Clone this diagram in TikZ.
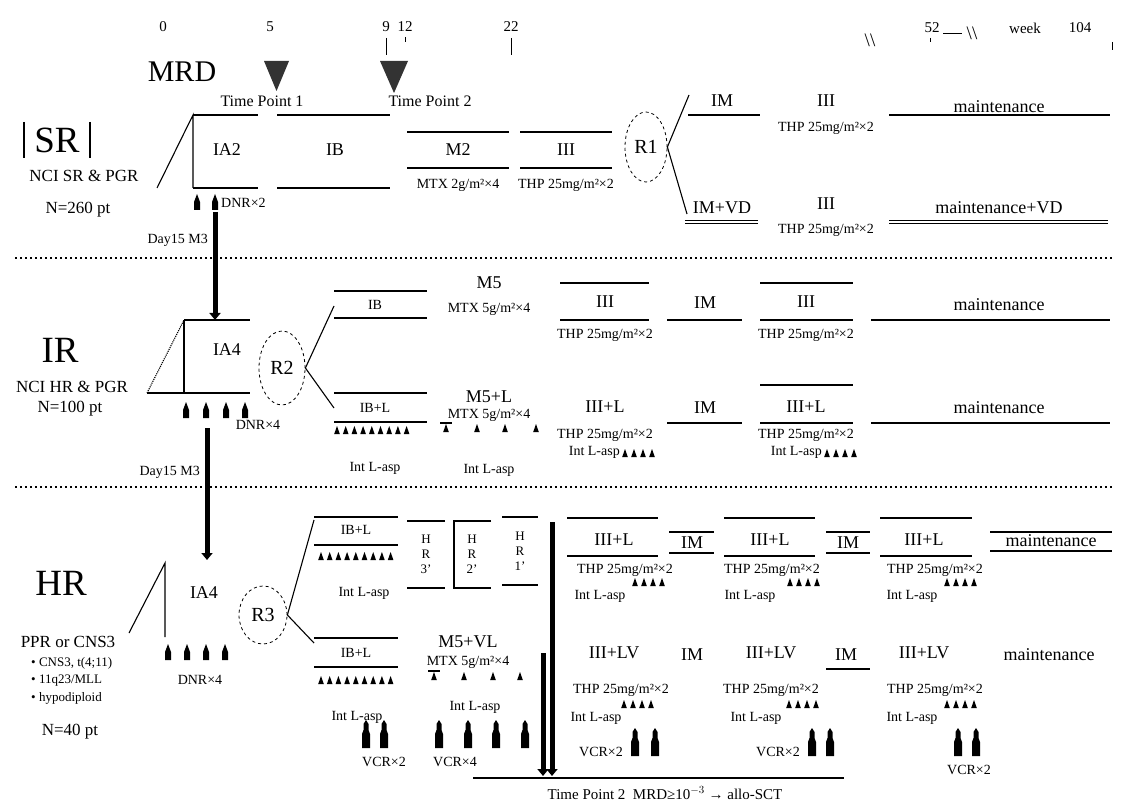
\documentclass[tikz,border=0pt]{standalone}
\usepackage{fontspec}
\setmainfont{Liberation Serif}
\usetikzlibrary{arrows.meta,shapes.geometric}
\newcommand\fsz[1]{\fontsize{#1}{#1}\selectfont}
\begin{document}
\begin{tikzpicture}[x=1pt,y=-1pt,
  bar/.style={line width=1.1pt},
  lbl/.style={font=\fsz{18}, inner sep=0pt},
  sm/.style={font=\fsz{14}, inner sep=0pt},
  num/.style={font=\fsz{15}, inner sep=0pt},
  tpl/.style={font=\fsz{16}, inner sep=0pt},
  big/.style={font=\fsz{37}, inner sep=0pt},
  side/.style={font=\fsz{17}, inner sep=0pt},
  bul/.style={font=\fsz{13}, inner sep=0pt, anchor=west},
  rand/.style={draw, dashed, ellipse, inner sep=0pt, font=\fsz{20}, line width=0.8pt},
  fat/.style={line width=5pt, -{Triangle[width=11pt,length=7pt]}},
  sep/.style={line width=2pt, dash pattern=on 2pt off 3pt},
  hrbox/.style={font=\fsz{13}, inner sep=0pt, align=center},
  la/.pic={\fill (-2.8,0) -- (2.8,0) -- (0,-8) -- cycle;},
  dnr/.pic={\fill (-3,0) -- (-3,-8) -- (0,-16) -- (3,-8) -- (3,0) -- cycle;},
  vcr/.pic={\fill (-4,0) -- (-4,-14) -- (-2.5,-18) -- (-2.5,-24) -- (0,-28) -- (2.5,-24) -- (2.5,-18) -- (4,-14) -- (4,0) -- cycle;}
]
\useasboundingbox (0,0) rectangle (1127,810);
\fill[white] (0,0) rectangle (1127,810);

% ---------- time axis ----------
\node[num] (w0) at (163,27) {0};
\node[num] (w5) at (270,27) {5};
\node[num] (w9) at (386,27) {9};
\node[num] (w12) at (405,27) {12};
\node[num] (w22) at (511,27) {22};
\node[font=\fsz{19}, inner sep=0pt] (brk1) at (870,40) {\textbackslash\textbackslash};
\node[num] (w52) at (932,28) {52};
\node[font=\fsz{19}, inner sep=0pt] (brk2) at (972,33) {\textbackslash\textbackslash};
\node[num] (wk) at (1025,28) {week};
\node[num] (w104) at (1080,28) {104};
\draw (386,38) -- (386,55);
\draw (511,38) -- (511,55);
\draw (405,37) -- (405,42);
\draw (930,38) -- (930,42);
\draw (1112,42) -- (1112,50);
\draw (943,33) -- (962,33);

\node[font=\fsz{30}, inner sep=0pt] (mrd) at (182,72) {MRD};
\fill[black!80] (264,61) -- (289,61) -- (276.5,91) -- cycle;
\fill[black!80] (380,61) -- (408,61) -- (394,93) -- cycle;
\node[tpl] (tp1) at (262,101) {Time Point 1};
\node[tpl] (tp2) at (430,101) {Time Point 2};

% ---------- SR ----------
\node[big] (SR) at (57,140) {SR};
\draw[line width=1.2pt] (24,122) -- (24,158);
\draw[line width=1.2pt] (90,122) -- (90,158);
\node[side] (srt1) at (84,176) {NCI SR \& PGR};
\node[side] (srt2) at (78,210) {N=260 pt};

\draw[bar] (157,188) -- (193,115) -- (193,188);
\draw[bar] (193,115) -- (258,115);
\draw[bar] (193,188) -- (258,188);
\node[lbl] (ia2) at (227,150) {IA2};
\draw[bar] (277,115) -- (390,115);
\draw[bar] (277,188) -- (390,188);
\node[lbl] (ib1) at (335,150) {IB};
\draw[bar] (407,132) -- (509,132);
\draw[bar] (407,168) -- (509,168);
\node[lbl] (m2) at (458,150) {M2};
\node[sm] (m2d) at (458,185) {MTX 2g/m²×4};
\draw[bar] (520,132) -- (612,132);
\draw[bar] (520,168) -- (612,168);
\node[lbl] (sr3) at (566,150) {III};
\node[sm] (sr3d) at (566,185) {THP 25mg/m²×2};
\pic at (197,210) {dnr};
\pic at (215,210) {dnr};
\node[sm, anchor=west] (srdnr) at (221,203) {DNR×2};

\node[rand, minimum width=42, minimum height=70] (R1) at (646,147) {R1};
\coordinate (r1u) at (689,95);
\coordinate (r1d) at (687,214);
\draw[bar] (R1.east) -- (r1u);
\draw[bar] (R1.east) -- (r1d);
\node[lbl] (im1) at (722,101) {IM};
\draw[bar] (688,115) -- (760,115);
\node[lbl] (sr4) at (826,101) {III};
\node[sm] (sr4d) at (826,128) {THP 25mg/m²×2};
\node[lbl] (mt1) at (999,107) {maintenance};
\draw[bar] (889,115) -- (1110,115);
\node[lbl] (im2) at (722,208) {IM+VD};
\draw[double, double distance=2pt, line width=0.9pt] (685,222) -- (758,222);
\node[lbl] (sr5) at (826,204) {III};
\node[sm] (sr5d) at (826,230) {THP 25mg/m²×2};
\node[lbl] (mt2) at (999,208) {maintenance+VD};
\draw[double, double distance=2pt, line width=0.9pt] (889,222) -- (1108,222);

\node[sm, anchor=east] (d15a) at (208,240) {Day15 M3};
\coordinate (a1s) at (215,212);
\coordinate (a1e) at (215,320);
\draw[fat] (a1s) -- (a1e);

\draw[sep] (15,258) -- (1112,258);

% ---------- IR ----------
\node[big] (IR) at (60,350) {IR};
\node[side] (irt1) at (72,387) {NCI HR \& PGR};
\node[side] (irt2) at (70,409) {N=100 pt};
\draw[bar, densely dotted] (147,393) -- (184,320);
\draw[bar] (184,320) -- (184,393);
\draw[bar] (184,320) -- (250,320);
\draw[bar] (147,393) -- (250,393);
\node[lbl] (ia4a) at (227,350) {IA4};
\foreach \x in {186,206,226,245} \pic at (\x,418) {dnr};
\node[sm] (irdnr) at (258,425) {DNR×4};

\node[rand, minimum width=46, minimum height=74] (R2) at (282,368) {R2};
\coordinate (r2u) at (334,306);
\coordinate (r2d) at (334,408);
\draw[bar] (R2.east) -- (r2u);
\draw[bar] (R2.east) -- (r2d);
\draw[bar] (334,291) -- (427,291);
\draw[bar] (334,318) -- (427,318);
\node[sm] (ib2) at (375,305) {IB};
\draw[bar] (334,393) -- (427,393);
\draw[bar] (334,422) -- (427,422);
\node[sm] (ibl2) at (375,408) {IB+L};
\foreach \i in {0,...,8} \pic at (337+\i*8.7,434) {la};
\node[sm] (las1) at (375,468) {Int L-asp};
\node[lbl] (m5a) at (489,283) {M5};
\node[sm] (m5ad) at (489,309) {MTX 5g/m²×4};
\node[lbl] (m5b) at (489,397) {M5+L};
\node[sm] (m5bd) at (489,415) {MTX 5g/m²×4};
\draw[line width=1.2pt] (440,423) -- (452,423);
\foreach \x in {446,477,505,536} \pic at (\x,432) {la};
\node[sm] (las2) at (489,470) {Int L-asp};

\draw[bar] (560,283) -- (649,283);
\draw[bar] (560,320) -- (649,320);
\node[lbl] (ir3a) at (605,302) {III};
\node[sm] (ir3ad) at (605,335) {THP 25mg/m²×2};
\draw[bar] (667,320) -- (742,320);
\node[lbl] (imir1) at (705,303) {IM};
\draw[bar] (760,283) -- (853,283);
\draw[bar] (760,320) -- (853,320);
\node[lbl] (ir3b) at (806,302) {III};
\node[sm] (ir3bd) at (806,335) {THP 25mg/m²×2};
\draw[bar] (871,320) -- (1110,320);
\node[lbl] (mt3) at (999,305) {maintenance};

\node[lbl] (ir3c) at (605,407) {III+L};
\node[sm] (ir3cd) at (605,435) {THP 25mg/m²×2};
\node[sm, anchor=east] (las3) at (620,452) {Int L-asp};
\foreach \x in {625,634,643,652} \pic at (\x,457) {la};
\draw[bar] (667,423) -- (742,423);
\node[lbl] (imir2) at (705,408) {IM};
\draw[bar] (760,385) -- (853,385);
\draw[bar] (760,423) -- (853,423);
\node[lbl] (ir3d) at (806,407) {III+L};
\node[sm] (ir3dd) at (806,435) {THP 25mg/m²×2};
\node[sm, anchor=east] (las4) at (822,452) {Int L-asp};
\foreach \x in {827,836,845,854} \pic at (\x,457) {la};
\draw[bar] (871,423) -- (1110,423);
\node[lbl] (mt4) at (999,408) {maintenance};

\node[sm, anchor=east] (d15b) at (200,472) {Day15 M3};
\coordinate (a2s) at (207,428);
\coordinate (a2e) at (207,560);
\draw[fat] (a2s) -- (a2e);

\draw[sep] (15,487) -- (1112,487);

% ---------- HR ----------
\node[big] (HR) at (61,583) {HR};
\node[side] (hrt1) at (68,642) {PPR or CNS3};
\node[bul] (hrt2) at (31,663) {• CNS3, t(4;11)};
\node[bul] (hrt3) at (31,681) {• 11q23/MLL};
\node[bul] (hrt4) at (31,698) {• hypodiploid};
\node[side] (hrt5) at (70,732) {N=40 pt};

\draw[bar] (129,633) -- (165,563) -- (165,637);
\node[lbl] (ia4b) at (204,593) {IA4};
\foreach \x in {168,187,206,225} \pic at (\x,660) {dnr};
\node[sm] (hrdnr) at (200,680) {DNR×4};

\node[rand, minimum width=48, minimum height=58] (R3) at (263,615) {R3};
\coordinate (r3u) at (314,520);
\coordinate (r3d) at (314,643);
\draw[bar] (R3.east) -- (r3u);
\draw[bar] (R3.east) -- (r3d);
\draw[bar] (314,517) -- (398,517);
\draw[bar] (314,545) -- (398,545);
\node[sm] (ibl3) at (356,530) {IB+L};
\foreach \i in {0,...,8} \pic at (321+\i*8.7,560) {la};
\node[sm] (las5) at (364,593) {Int L-asp};

\draw[bar] (407,521) -- (445,521);
\draw[bar] (407,588) -- (445,588);
\node[hrbox] (hr3p) at (426,554) {H\\[2pt]R\\[2pt]3'};
\draw[bar] (491,521) -- (454,521) -- (454,588) -- (491,588);
\node[hrbox] (hr2p) at (472,554) {H\\[2pt]R\\[2pt]2'};
\draw[bar] (502,517) -- (538,517);
\draw[bar] (502,585) -- (538,585);
\node[hrbox] (hr1p) at (520,551) {H\\[2pt]R\\[2pt]1'};

\draw[bar] (314,638) -- (398,638);
\draw[bar] (314,667) -- (398,667);
\node[sm] (ibl4) at (356,653) {IB+L};
\foreach \i in {0,...,8} \pic at (321+\i*8.7,684) {la};
\node[sm] (las6) at (357,717) {Int L-asp};
\foreach \x in {366,384} \pic at (\x,748) {vcr};
\node[sm] (vcr1) at (384,762) {VCR×2};

\node[lbl] (m5c) at (468,642) {M5+VL};
\node[sm] (m5cd) at (468,662) {MTX 5g/m²×4};
\draw[line width=1.2pt] (428,671) -- (440,671);
\foreach \x in {434,464,493,520} \pic at (\x,680) {la};
\node[sm] (las7) at (475,707) {Int L-asp};
\foreach \x in {439,468,496,525} \pic at (\x,748) {vcr};
\node[sm] (vcr2) at (455,762) {VCR×4};

\coordinate (b1s) at (552,522);
\coordinate (b1e) at (552,776);
\coordinate (b2s) at (543,653);
\coordinate (b2e) at (543,776);
\draw[fat] (b1s) -- (b1e);
\draw[fat] (b2s) -- (b2e);
\draw[bar] (473,778) -- (844,778);
\node[num] (tp2b) at (665,793) {Time Point 2 \ MRD≥10$^{-3}$ → allo-SCT};

% HR upper arm
\draw[bar] (567,518) -- (658,518);
\draw[bar] (567,556) -- (658,556);
\node[lbl] (h1) at (614,540) {III+L};
\node[sm] (h1d) at (625,570) {THP 25mg/m²×2};
\foreach \x in {635,644,653,662} \pic at (\x,586) {la};
\node[sm] (las8) at (600,596) {Int L-asp};
\draw[bar] (669,532) -- (714,532);
\draw[bar] (669,553) -- (714,553);
\node[lbl] (imh1) at (692,543) {IM};
\draw[bar] (724,518) -- (815,518);
\draw[bar] (724,556) -- (815,556);
\node[lbl] (h2) at (770,540) {III+L};
\node[sm] (h2d) at (772,570) {THP 25mg/m²×2};
\foreach \x in {790,799,808,817} \pic at (\x,586) {la};
\node[sm] (las9) at (750,596) {Int L-asp};
\draw[bar] (826,532) -- (870,532);
\draw[bar] (826,553) -- (870,553);
\node[lbl] (imh2) at (848,543) {IM};
\draw[bar] (880,518) -- (972,518);
\draw[bar] (880,556) -- (972,556);
\node[lbl] (h3) at (924,540) {III+L};
\node[sm] (h3d) at (935,570) {THP 25mg/m²×2};
\foreach \x in {947,956,965,974} \pic at (\x,586) {la};
\node[sm] (las10) at (912,596) {Int L-asp};
\draw[bar] (990,532) -- (1112,532);
\draw[bar] (990,551) -- (1112,551);
\node[lbl] (mt5) at (1051,541) {maintenance};

% HR lower arm
\node[lbl] (h4) at (614,653) {III+LV};
\node[sm] (h4d) at (621,690) {THP 25mg/m²×2};
\foreach \x in {624,633,642,651} \pic at (\x,708) {la};
\node[sm] (las11) at (596,718) {Int L-asp};
\foreach \x in {635,655} \pic at (\x,756) {vcr};
\node[sm] (vcr3) at (601,752) {VCR×2};
\node[lbl] (imh3) at (692,655) {IM};
\node[lbl] (h5) at (771,653) {III+LV};
\node[sm] (h5d) at (771,690) {THP 25mg/m²×2};
\foreach \x in {789,798,807,816} \pic at (\x,708) {la};
\node[sm] (las12) at (756,718) {Int L-asp};
\foreach \x in {812,830} \pic at (\x,756) {vcr};
\node[sm] (vcr4) at (778,752) {VCR×2};
\node[lbl] (imh4) at (846,655) {IM};
\draw[bar] (826,669) -- (870,669);
\node[lbl] (h6) at (924,653) {III+LV};
\node[sm] (h6d) at (935,690) {THP 25mg/m²×2};
\foreach \x in {947,956,965,974} \pic at (\x,708) {la};
\node[sm] (las13) at (912,718) {Int L-asp};
\foreach \x in {958,976} \pic at (\x,756) {vcr};
\node[sm] (vcr5) at (969,770) {VCR×2};
\node[lbl] (mt6) at (1049,655) {maintenance};
\end{tikzpicture}
\end{document}
